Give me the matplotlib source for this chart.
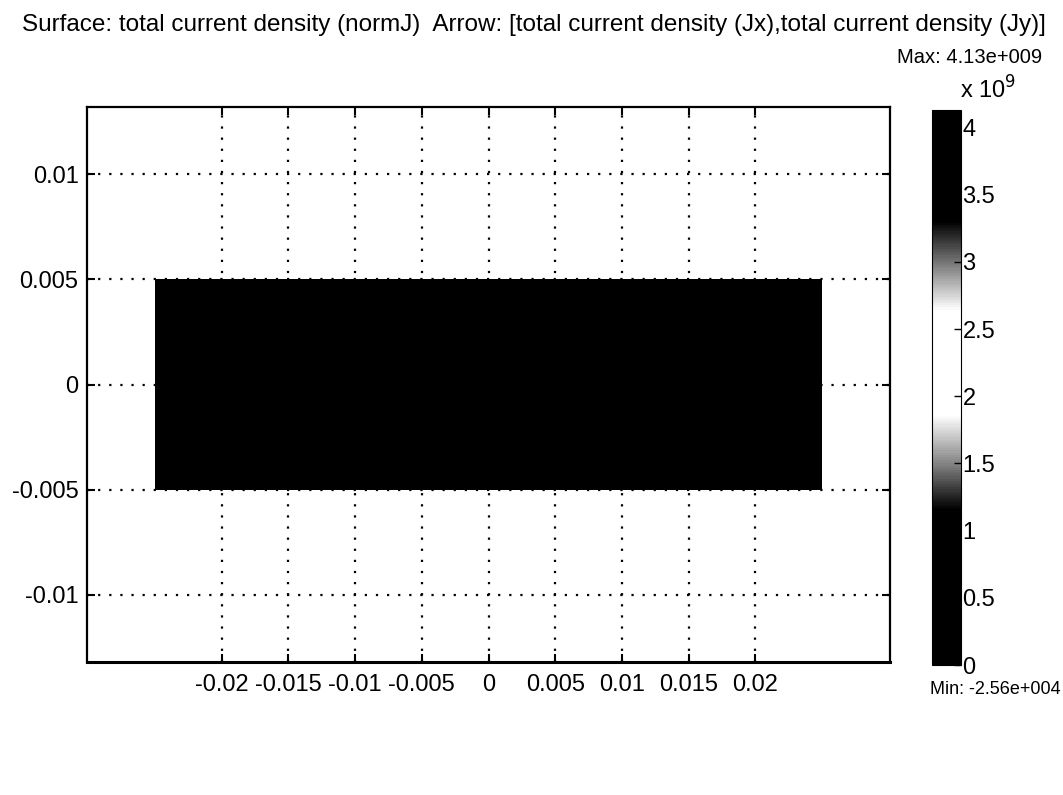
import numpy as np
import matplotlib
matplotlib.use("Agg")
import matplotlib.pyplot as plt
from matplotlib.colors import LinearSegmentedColormap, Normalize
import matplotlib.cm as cm

plt.rcParams['font.family'] = ['Liberation Sans', 'DejaVu Sans']

# geometry of the conductor (m) and the surface values of normJ (A/m^2)
x_edges = [-0.025, -0.015, 0.015, 0.025]
y_edges = [-0.005, 0.005]
normJ = [[0.35e9, 0.25e9, 0.40e9]]

x_ticks = [-0.02, -0.015, -0.01, -0.005, 0, 0.005, 0.01, 0.015, 0.02]
x_labels = ['-0.02', '-0.015', '-0.01', '-0.005', '0', '0.005', '0.01', '0.015', '0.02']
y_ticks = [-0.01, -0.005, 0, 0.005, 0.01]
y_labels = ['-0.01', '-0.005', '0', '0.005', '0.01']
cbar_ticks = [0, 0.5, 1, 1.5, 2, 2.5, 3, 3.5, 4]
cbar_labels = ['0', '0.5', '1', '1.5', '2', '2.5', '3', '3.5', '4']

j_min = -2.56e0
j_max = 4.13e9

# grayscale look of the scanned colour map
stops = [(0.0, 'black'), (0.28, 'black'), (0.36, '#808080'), (0.45, 'white'),
         (0.64, 'white'), (0.72, '#808080'), (0.80, 'black'), (1.0, 'black')]
cmap = LinearSegmentedColormap.from_list('scan', stops)

fig = plt.figure(figsize=(10.63, 7.95), dpi=100)
ax = fig.add_axes([0.0818, 0.1673, 0.7555, 0.698])

norm = Normalize(vmin=j_min, vmax=j_max)
ax.pcolormesh(x_edges, y_edges, np.array(normJ), cmap=cmap, norm=norm, zorder=2)

ax.set_xlim(-0.0301, 0.0301)
ax.set_ylim(-0.0132, 0.0132)
ax.set_xticks(x_ticks)
ax.set_xticklabels(x_labels, fontsize=17)
ax.set_yticks(y_ticks)
ax.set_yticklabels(y_labels, fontsize=17)
ax.tick_params(direction='in', length=6, width=1.5, top=True, right=True, pad=6)
ax.tick_params(axis='x', pad=9)
ax.grid(True, color='black', linestyle=(0, (1, 4)), linewidth=1.6, zorder=1)
ax.set_axisbelow(True)
for s in ax.spines.values():
    s.set_linewidth(1.6)
ax.spines['bottom'].set_linewidth(2.2)

# colorbar
cax = fig.add_axes([0.8768, 0.1635, 0.0273, 0.698])
sm = cm.ScalarMappable(norm=Normalize(vmin=j_min / 1e9, vmax=j_max / 1e9), cmap=cmap)
cb = fig.colorbar(sm, cax=cax)
cb.set_ticks(cbar_ticks)
cb.set_ticklabels(cbar_labels)
cb.ax.tick_params(labelsize=17, direction='in', length=5, width=1, pad=1)
cb.outline.set_linewidth(0.8)

fig.text(0.0207, 0.961, 'Surface: total current density (normJ)  Arrow: [total current density (Jx),total current density (Jy)]',
         fontsize=17.5, ha='left', va='baseline')
fig.text(0.980, 0.9208, 'Max: 4.13e+009', fontsize=14.5, ha='right', va='baseline')
fig.text(0.903, 0.8755, r'x 10$^9$', fontsize=17, ha='left', va='baseline')
fig.text(0.875, 0.1265, 'Min: -2.56e+004', fontsize=13, ha='left', va='baseline')

fig.savefig('out.png', dpi=100)
